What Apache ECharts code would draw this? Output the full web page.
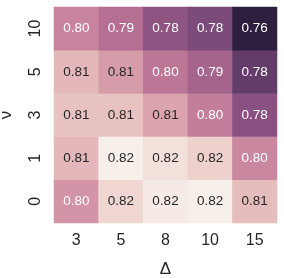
<!DOCTYPE html>
<html><head><meta charset="utf-8">
<script src="https://cdn.jsdelivr.net/npm/echarts@6/dist/echarts.min.js"></script>
<style>html,body{margin:0;padding:0;background:#fff}#c{width:284px;height:278px}</style>
</head><body><div id="c"></div>
<script>
const xCategories = ['3', '5', '8', '10', '15'];
const yCategories = ['0', '1', '3', '5', '10'];
// rows bottom (ν=0) to top (ν=10), columns Δ = 3,5,8,10,15
const row0 = [0.804, 0.818, 0.822, 0.823, 0.813];
const row1 = [0.812, 0.823, 0.820, 0.817, 0.801];
const row3 = [0.814, 0.814, 0.808, 0.798, 0.783];
const row5 = [0.812, 0.806, 0.796, 0.788, 0.776];
const row10 = [0.800, 0.793, 0.784, 0.781, 0.760];
const rows = [row0, row1, row3, row5, row10];

const data = [];
rows.forEach((r, yi) => r.forEach((v, xi) => {
  data.push({value: [xi, yi, v], label: {color: v > 0.805 ? '#262626' : '#ffffff'}});
}));

const font = 'Liberation Sans, Arial, sans-serif';
const chart = echarts.init(document.getElementById('c'));
chart.setOption({
  animation: false,
  grid: {left: 54, right: 7, top: 7, bottom: 55, containLabel: false, outerBoundsMode: 'none'},
  xAxis: {
    type: 'category', data: xCategories,
    axisLine: {show: false}, axisTick: {show: false}, splitLine: {show: false},
    axisLabel: {fontSize: 16, color: '#262626', fontFamily: font, margin: 10},
    name: 'Δ', nameLocation: 'middle', nameGap: 38,
    nameTextStyle: {fontSize: 17, color: '#262626', fontFamily: font}
  },
  yAxis: {
    type: 'category', data: yCategories,
    axisLine: {show: false}, axisTick: {show: false}, splitLine: {show: false},
    axisLabel: {fontSize: 16, color: '#262626', fontFamily: font, rotate: 90, margin: 10},
    name: 'ν', nameLocation: 'middle', nameGap: 39, nameRotate: 90,
    nameTextStyle: {fontSize: 17, color: '#262626', fontFamily: font}
  },
  visualMap: {
    show: false, min: 0.760, max: 0.823, dimension: 2,
    inRange: {color: ['#2e1f3e', '#482d54', '#583763', '#7d4a7c', '#a4648c', '#ba7494', '#cd8ba2', '#dea9b0', '#ecccc7', '#f7efea']}
  },
  series: [{
    type: 'heatmap', data: data,
    label: {show: true, fontSize: 13.5, fontFamily: font, formatter: p => p.value[2].toFixed(2)},
    itemStyle: {borderWidth: 0}
  }]
});
</script></body></html>
